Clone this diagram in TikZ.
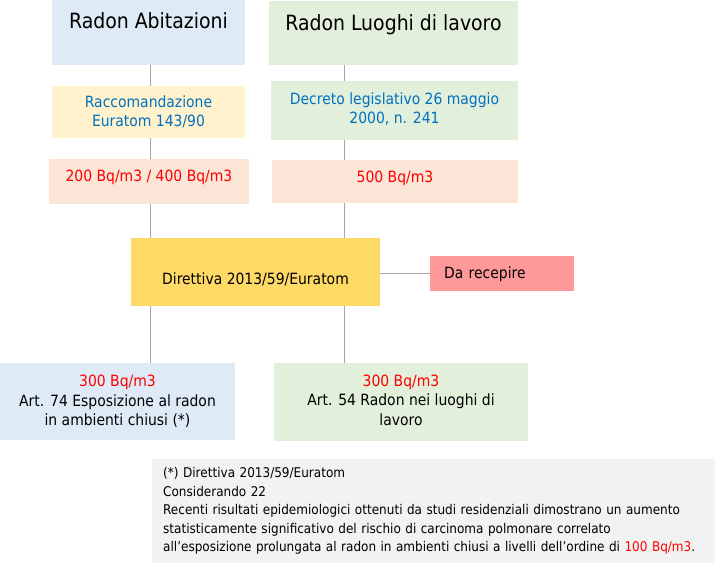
\documentclass[tikz,border=0pt]{standalone}
\usepackage{fontspec}
\setmainfont{DejaVu Sans Condensed}
\definecolor{azzurro}{HTML}{DEEBF7}
\definecolor{verdino}{HTML}{E2EFDA}
\definecolor{giallino}{HTML}{FFF2CC}
\definecolor{pesca}{HTML}{FBE5D6}
\definecolor{oro}{HTML}{FFD966}
\definecolor{rosa}{HTML}{FF9999}
\definecolor{grigino}{HTML}{F2F2F2}
\definecolor{linea}{HTML}{A6A6A6}
\definecolor{blu}{HTML}{0070C0}
\definecolor{rosso}{HTML}{FF0000}
\begin{document}
\begin{tikzpicture}[x=1pt,y=-1pt,
    box/.style={rectangle, inner sep=0pt, align=center, font=\fontsize{15.5}{19.5}\selectfont},
    titolo/.style={box, anchor=north, font=\fontsize{21}{25}\selectfont},
    link/.style={draw=linea, line width=1pt}]
    \useasboundingbox (0,0) rectangle (715,563);
    \coordinate (colA) at (150,0);
    \coordinate (colB) at (344,0);

    % Abitazioni
    \node[titolo, fill=azzurro, minimum width=193pt, text height=28pt, text depth=37pt] (abit) at (148.5,0) {Radon Abitazioni};
    \node[box, fill=giallino, text=blu, minimum width=193pt, minimum height=52pt] (racc) at (148.5,112) {Raccomandazione\\Euratom 143/90};
    \node[box, fill=pesca, text=rosso, minimum width=200pt, text height=22pt, text depth=23pt] (limA) at (149,159) [anchor=north] {200 Bq/m3 / 400 Bq/m3};

    % Luoghi di lavoro
    \node[titolo, fill=verdino, minimum width=249pt, text height=29pt, text depth=35pt] (lavoro) at (393.5,1) {Radon Luoghi di lavoro};
    \node[box, fill=verdino, text=blu, minimum width=247pt, minimum height=59pt] (decr) at (394.5,110.5) {Decreto legislativo 26 maggio\\2000, n. 241\\[-15pt]};
    \node[box, fill=pesca, text=rosso, minimum width=246pt, text height=22pt, text depth=21pt] (limB) at (395,160) [anchor=north] {500 Bq/m3};

    % Direttiva
    \node[box, fill=oro, minimum width=249pt, text height=46pt, text depth=22pt] (dir) at (255.5,238) [anchor=north] {Direttiva 2013/59/Euratom};
    \node[box, fill=rosa, text width=116pt, inner xsep=14pt, align=left, text height=22pt, text depth=13pt] (recep) at (430,256) [anchor=north west] {Da recepire};

    % Articoli
    \node[box, fill=azzurro, minimum width=235pt, minimum height=77pt] (art74) at (117.5,401.5) {\textcolor{rosso}{300 Bq/m3}\\Art. 74 Esposizione al radon\\in ambienti chiusi (*)};
    \node[box, fill=verdino, minimum width=254pt, minimum height=78pt] (art54) at (401,402) {\textcolor{rosso}{300 Bq/m3}\\Art. 54 Radon nei luoghi di\\lavoro\\[-15pt]};

    % Nota
    \node[fill=grigino, anchor=north west, minimum width=563pt, minimum height=104pt, inner xsep=11pt, text width=541pt, align=left, font=\fontsize{13.4}{18.5}\selectfont] (nota) at (152,459) {(*) Direttiva 2013/59/Euratom\\Considerando 22\\Recenti risultati epidemiologici ottenuti da studi residenziali\ dimostrano un aumento\\statisticamente significativo\ del rischio di carcinoma\ polmonare correlato\\all'esposizione\ prolungata al radon in ambienti chiusi a livelli\ dell'ordine di \textcolor{rosso}{100 Bq/m3}.};

    % Collegamenti
    \draw[link] (colA |- abit.south) -- (colA |- racc.north);
    \draw[link] (colA |- racc.south) -- (colA |- limA.north);
    \draw[link] (colA |- limA.south) -- (colA |- dir.north);
    \draw[link] (colA |- dir.south) -- (colA |- art74.north);
    \draw[link] (colB |- lavoro.south) -- (colB |- decr.north);
    \draw[link] (colB |- decr.south) -- (colB |- limB.north);
    \draw[link] (colB |- limB.south) -- (colB |- dir.north);
    \draw[link] (colB |- dir.south) -- (colB |- art54.north);
    \draw[link] (recep.west -| dir.east) -- (recep.west);
\end{tikzpicture}
\end{document}
